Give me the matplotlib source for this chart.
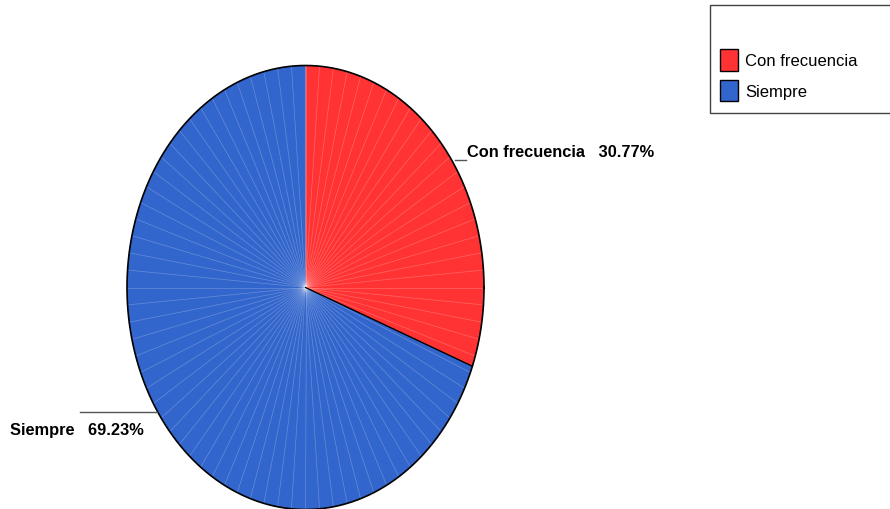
import numpy as np
import matplotlib
matplotlib.use("Agg")
import matplotlib.pyplot as plt
from matplotlib.patches import Rectangle
from matplotlib import font_manager

categories = ["Con frecuencia", "Siempre"]
shares = [30.77, 69.23]
colors = ["#FF3333", "#3366CC"]

names = {f.name for f in font_manager.fontManager.ttflist}
fam = "Liberation Sans Narrow" if "Liberation Sans Narrow" in names else "Liberation Sans"

W, H = 890, 510
fig = plt.figure(figsize=(W / 100, H / 100), dpi=100)

# pie axes: ellipse center, radii
cx, cy, rx, ry = 305.5, 288.5, 178.5, 222
ax = fig.add_axes([(cx - rx) / W, (H - cy - ry) / H, 2 * rx / W, 2 * ry / H])
wedges, _ = ax.pie(shares, colors=colors, startangle=90, counterclock=False,
                   radius=1, wedgeprops=dict(linewidth=0, edgecolor="none"))
ax.set_aspect("auto")
ax.set_xlim(-1, 1)
ax.set_ylim(-1, 1)
ax.axis("off")

# faint radial lines
for a in np.arange(90, 450, 4.5):
    t = np.deg2rad(a)
    ax.plot([0, np.cos(t)], [0, np.sin(t)], color="white", lw=0.5, alpha=0.25, zorder=3)

# outline
th = np.linspace(0, 2 * np.pi, 400)
ax.plot(np.cos(th), np.sin(th), color="black", lw=1.2, zorder=4, clip_on=False)
end = np.deg2rad(90 - shares[0] / 100 * 360)
ax.plot([0, np.cos(end)], [0, np.sin(end)], color="black", lw=1.0, zorder=4)

# overlay axes in pixel coords
ov = fig.add_axes([0, 0, 1, 1], facecolor="none")
ov.set_xlim(0, W)
ov.set_ylim(H, 0)
ov.axis("off")

ov.plot([455, 466], [161, 161], color="#555555", lw=1)
ov.text(467, 153, f"{categories[0]}   {shares[0]:.2f}%", fontsize=11.8, fontweight="bold",
        family=fam, va="center", ha="left")
ov.plot([80, 157], [413, 413], color="#555555", lw=1)
ov.text(10, 431, f"{categories[1]}   {shares[1]:.2f}%", fontsize=11.8, fontweight="bold",
        family=fam, va="center", ha="left")

# legend
ov.add_patch(Rectangle((710, 6), 200, 107.5, fill=False, edgecolor="#444444", lw=1, clip_on=False))
for i, (c, lab) in enumerate(zip(colors, categories)):
    y0 = 50 + i * 30.5
    ov.add_patch(Rectangle((720, y0), 17.5, 21.5, facecolor=c, edgecolor="black", lw=1))
    ov.text(745, y0 + 11.5, lab, fontsize=12, family=fam, va="center", ha="left")

fig.savefig("out.png", dpi=100)
